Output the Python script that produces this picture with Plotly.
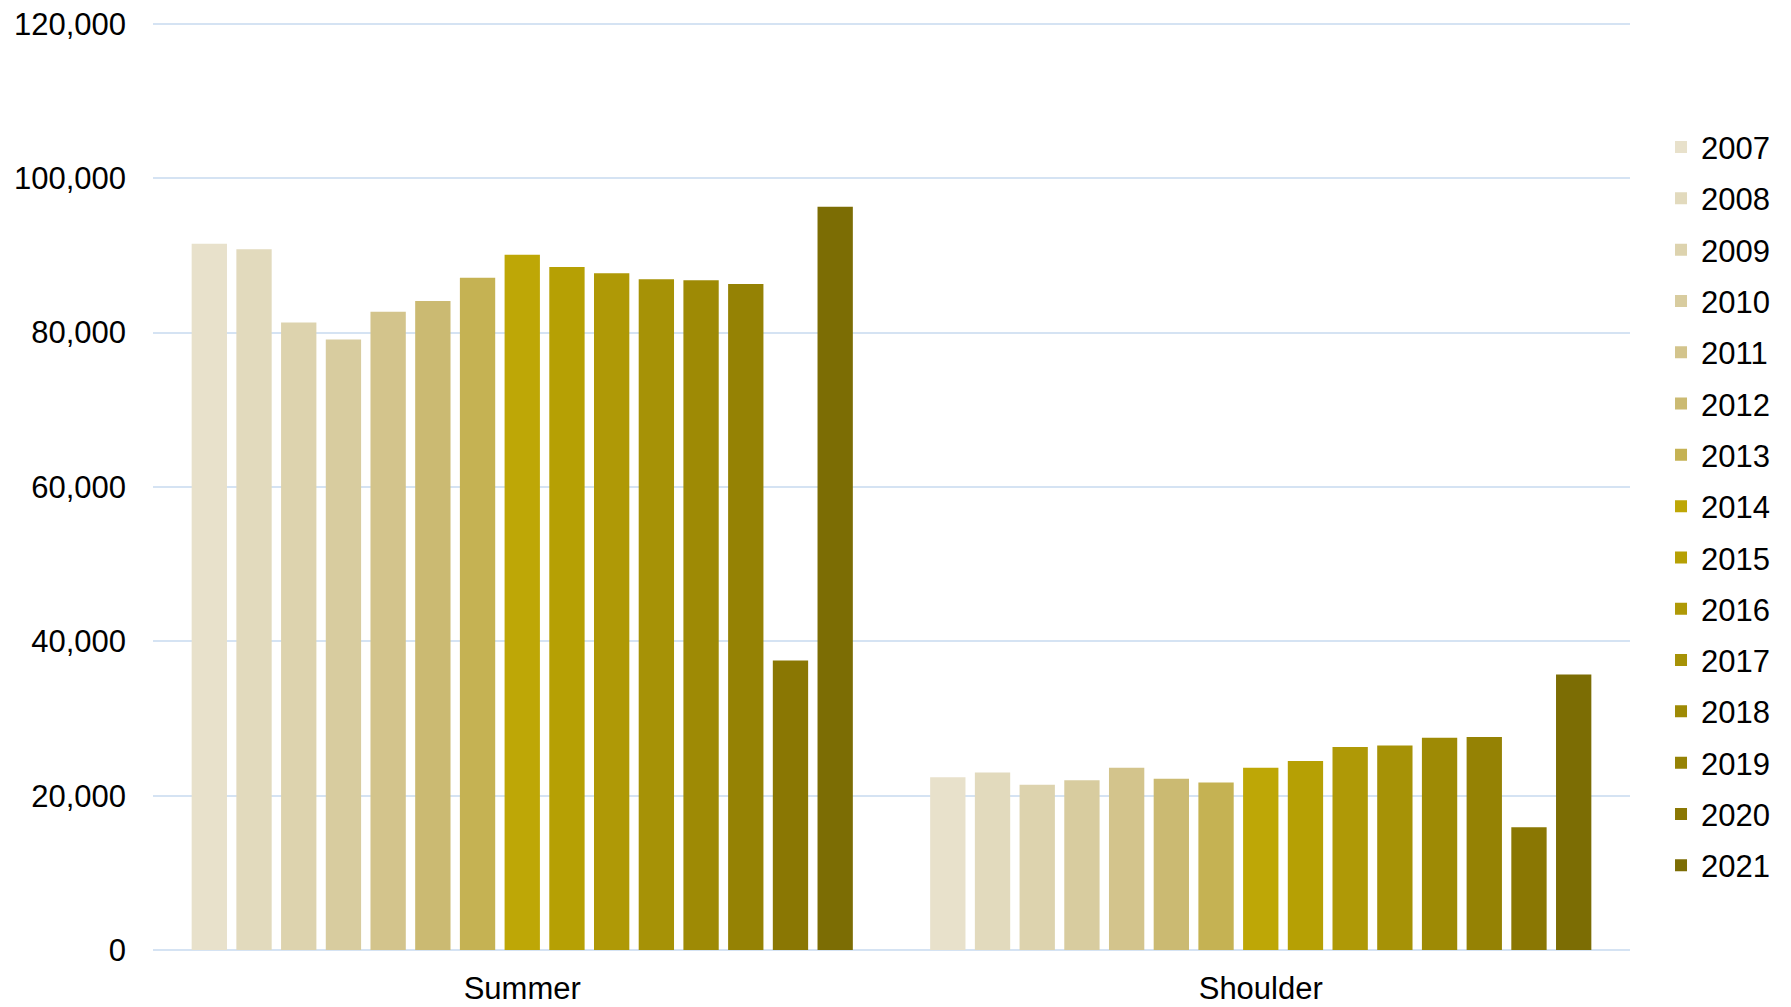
import plotly.graph_objects as go

categories = ["Summer", "Shoulder"]
years = ["2007", "2008", "2009", "2010", "2011", "2012", "2013", "2014",
         "2015", "2016", "2017", "2018", "2019", "2020", "2021"]
summer = [91500, 90800, 81300, 79100, 82700, 84100, 87100, 90100,
          88500, 87700, 86900, 86800, 86300, 37500, 96300]
shoulder = [22400, 23000, 21400, 22000, 23600, 22200, 21700, 23600,
            24500, 26300, 26500, 27500, 27600, 15900, 35700]
colors = ["#E8E1CB", "#E2DABD", "#DDD3AE", "#D8CC9F", "#D3C48C", "#CBBA72",
          "#C5B253", "#BEA706", "#B6A004", "#AF9906", "#A69206", "#9E8A05",
          "#958204", "#8A7703", "#7C6D04"]
y_ticks = [0, 20000, 40000, 60000, 80000, 100000, 120000]

FONT = "Liberation Sans, Arial, sans-serif"

fig = go.Figure()
for i, yr in enumerate(years):
    fig.add_trace(go.Bar(
        x=categories, y=[summer[i], shoulder[i]], name=yr,
        marker=dict(color=colors[i], line=dict(width=0)),
        legendgroup=yr,
    ))

fig.update_layout(
    width=1783, height=999,
    margin=dict(l=145, r=161, t=14, b=57, autoexpand=False),
    plot_bgcolor="white", paper_bgcolor="white",
    barmode="group", bargap=0.092, bargroupgap=0.21,
    font=dict(family=FONT, size=31, color="#000000"),
    showlegend=True,
    legend=dict(x=1.021, xanchor="left", y=0.478, yanchor="middle",
                traceorder="grouped", tracegroupgap=8,
                font=dict(family=FONT, size=31, color="#000000"),
                bgcolor="rgba(0,0,0,0)", borderwidth=0),
    xaxis=dict(showgrid=False, showline=False, ticks="",
               ticklabelstandoff=17, ticklabeloverflow="allow",
               tickfont=dict(family=FONT, size=31, color="#000000")),
    yaxis=dict(range=[0, 120250], tickvals=y_ticks, tickformat=",d",
               showgrid=True, gridcolor="#D5E3F3", gridwidth=2,
               zeroline=True, zerolinecolor="#D5E3F3", zerolinewidth=2,
               showline=False, ticks="", ticklabelstandoff=26,
               ticklabeloverflow="allow",
               tickfont=dict(family=FONT, size=31, color="#000000")),
)

fig.write_html("out.html")
